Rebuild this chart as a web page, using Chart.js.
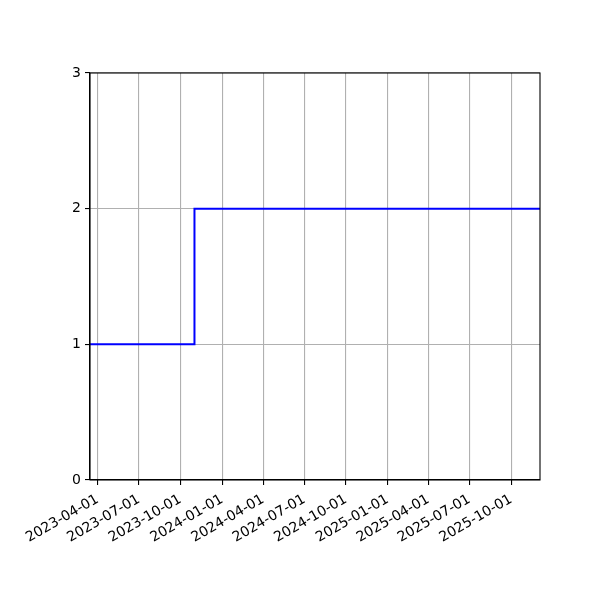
<!DOCTYPE html>
<html>
<head>
<meta charset="utf-8">
<script src="https://cdn.jsdelivr.net/npm/chart.js@4/dist/chart.umd.min.js"></script>
<style>
html,body{margin:0;padding:0;background:#fff;}
canvas{display:block;}
</style>
</head>
<body>
<canvas id="c" width="600" height="600"></canvas>
<script>
// Data
const stepDates = ['2023-03-15', '2023-11-01', '2025-12-04'];
const stepValues = [1, 2, 2];
const xTickLabels = ['2023-04-01','2023-07-01','2023-10-01','2024-01-01','2024-04-01','2024-07-01','2024-10-01','2025-01-01','2025-04-01','2025-07-01','2025-10-01'];
const yTickValues = [0, 1, 2, 3];
const xMin = '2023-03-15';
const xMax = '2025-12-04';

const toMs = s => Date.parse(s + 'T00:00:00Z');
const fmt = v => new Date(v).toISOString().slice(0, 10);

const points = stepDates.map((d, i) => ({x: toMs(d), y: stepValues[i]}));

const framePlugin = {
  id: 'frame',
  afterDraw(chart) {
    const {ctx, chartArea: a} = chart;
    ctx.save();
    ctx.strokeStyle = '#000';
    ctx.lineWidth = 1.1;
    ctx.strokeRect(a.left, a.top, a.right - a.left, a.bottom - a.top);
    ctx.restore();
  }
};

Chart.defaults.font.family = '"DejaVu Sans", sans-serif';
Chart.defaults.font.size = 14;
Chart.defaults.color = '#000';

new Chart(document.getElementById('c'), {
  type: 'line',
  data: {
    datasets: [{
      data: points,
      borderColor: '#0000ff',
      borderWidth: 2,
      pointRadius: 0,
      stepped: 'before',
      fill: false
    }]
  },
  options: {
    responsive: false,
    animation: false,
    layout: {padding: {left: 0, right: 60, top: 73, bottom: 0}},
    plugins: {legend: {display: false}, tooltip: {enabled: false}},
    scales: {
      x: {
        type: 'linear',
        min: toMs(xMin),
        max: toMs(xMax),
        afterBuildTicks(scale) {
          scale.ticks = xTickLabels.map(s => ({value: toMs(s)}));
        },
        afterFit(scale) { scale.height = 120; },
        ticks: {
          autoSkip: false,
          maxRotation: 30,
          minRotation: 30,
          padding: 6,
          callback: v => fmt(v)
        },
        grid: {
          color: '#b0b0b0',
          lineWidth: 1.1,
          tickColor: '#000',
          tickLength: 5
        },
        border: {color: '#000', width: 1.1}
      },
      y: {
        type: 'linear',
        min: 0,
        max: 3,
        afterBuildTicks(scale) {
          scale.ticks = yTickValues.map(v => ({value: v}));
        },
        afterFit(scale) { scale.width = 90; },
        ticks: {padding: 4, callback: v => String(v)},
        grid: {
          color: '#b0b0b0',
          lineWidth: 1.1,
          tickColor: '#000',
          tickLength: 5
        },
        border: {color: '#000', width: 1.1}
      }
    }
  },
  plugins: [framePlugin]
});
</script>
</body>
</html>
